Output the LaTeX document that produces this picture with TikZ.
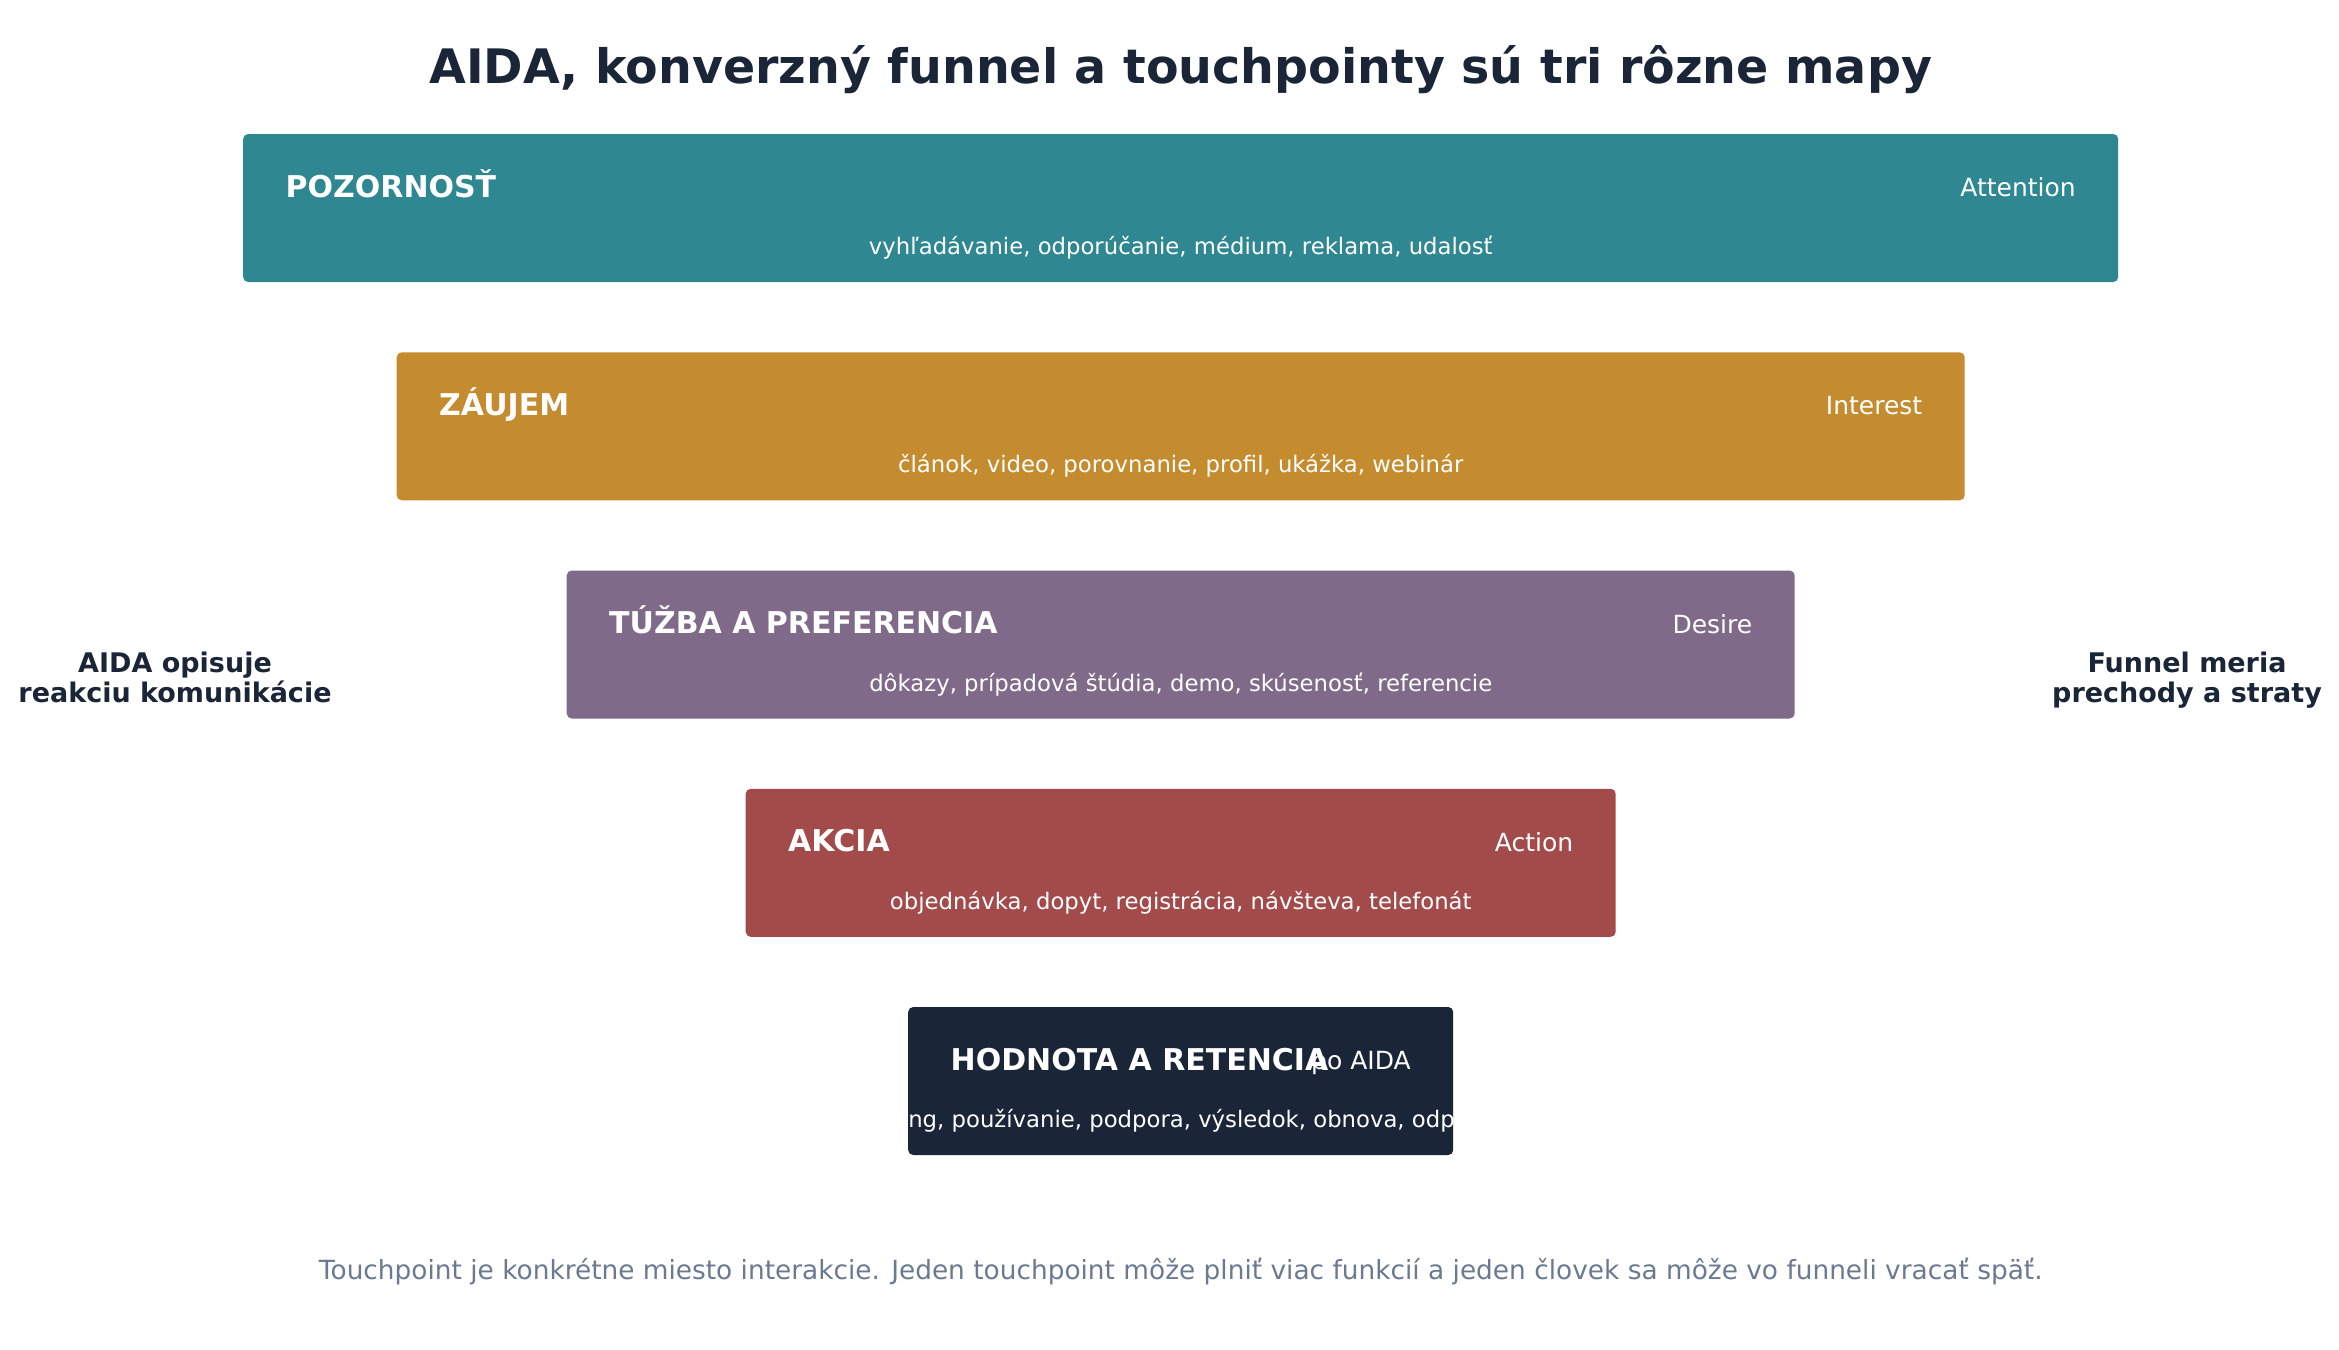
\documentclass[tikz,border=0pt]{standalone}
\usepackage{fontspec}
\setmainfont{DejaVu Sans}
\usepackage{xcolor}
\usetikzlibrary{positioning}
\definecolor{teal1}{RGB}{46,135,145}
\definecolor{gold1}{RGB}{196,140,46}
\definecolor{purple1}{RGB}{127,106,138}
\definecolor{red1}{RGB}{163,74,74}
\definecolor{navy1}{RGB}{27,37,56}
\definecolor{slate1}{RGB}{107,122,145}
\begin{document}
\begin{tikzpicture}[x=0.4pt, y=0.4pt,
    headline/.style={font=\fontsize{19}{23}\selectfont\bfseries, text=navy1, anchor=base, inner sep=0pt},
    stage/.style={shape=rectangle, rounded corners=2pt, minimum height=59.2pt, inner sep=0pt, outer sep=0pt},
    stagename/.style={font=\fontsize{12}{14}\selectfont\bfseries, text=white, anchor=base west, inner sep=0pt},
    stageeng/.style={font=\fontsize{10}{12}\selectfont, text=white, anchor=base east, inner sep=0pt},
    stagetouch/.style={font=\fontsize{9.1}{11}\selectfont, text=white, anchor=base, inner sep=0pt},
    sidenote/.style={font=\fontsize{10.8}{11.8}\selectfont\bfseries, text=navy1, align=center, anchor=base, inner sep=0pt},
    closing/.style={font=\fontsize{10.55}{12.5}\selectfont, text=slate1, anchor=base, inner sep=0pt}
]
        \fill[white] (0,0) rectangle (2339,-1349);
        \useasboundingbox (0,0) rectangle (2339,-1349);

        \node[headline, name=title] at(1180.7,-83) {AIDA, konverzný funnel a touchpointy sú tri rôzne mapy};

        % stages of the funnel
        \node[stage, fill=teal1, minimum width=750pt, name=att] at(1180.7,-208) {};
        \node[stagename] (attname) at([xshift=16.8pt,yshift=-25.2pt]att.north west) {POZORNOSŤ};
        \node[stageeng] (atteng) at([xshift=-16.8pt,yshift=-25pt]att.north east) {Attention};
        \node[stagetouch] (atttouch) at([yshift=-48.2pt]att.north) {vyhľadávanie, odporúčanie, médium, reklama, udalosť};

        \node[stage, fill=gold1, minimum width=627.2pt, name=int] at(1180.7,-426.3) {};
        \node[stagename] (intname) at([xshift=16.8pt,yshift=-25.2pt]int.north west) {ZÁUJEM};
        \node[stageeng] (inteng) at([xshift=-16.8pt,yshift=-25pt]int.north east) {Interest};
        \node[stagetouch] (inttouch) at([yshift=-48.2pt]int.north) {článok, video, porovnanie, profil, ukážka, webinár};

        \node[stage, fill=purple1, minimum width=491.2pt, name=des] at(1180.7,-644.5) {};
        \node[stagename] (desname) at([xshift=16.8pt,yshift=-25.2pt]des.north west) {TÚŽBA A PREFERENCIA};
        \node[stageeng] (deseng) at([xshift=-16.8pt,yshift=-25pt]des.north east) {Desire};
        \node[stagetouch] (destouch) at([yshift=-48.2pt]des.north) {dôkazy, prípadová štúdia, demo, skúsenosť, referencie};

        \node[stage, fill=red1, minimum width=348pt, name=act] at(1180.7,-862.8) {};
        \node[stagename] (actname) at([xshift=16.8pt,yshift=-25.2pt]act.north west) {AKCIA};
        \node[stageeng] (acteng) at([xshift=-16.8pt,yshift=-25pt]act.north east) {Action};
        \node[stagetouch] (acttouch) at([yshift=-48.2pt]act.north) {objednávka, dopyt, registrácia, návšteva, telefonát};

        \node[stage, fill=navy1, minimum width=218pt, name=val] at(1180.7,-1081) {};
        \node[stageeng] (valeng) at([xshift=-16.8pt,yshift=-25pt]val.north east) {po AIDA};
        \node[stagename] (valname) at([xshift=16.8pt,yshift=-25.2pt]val.north west) {HODNOTA A RETENCIA};
        \begin{scope}
            \clip[rounded corners=2pt] (val.south west) rectangle (val.north east);
            \node[stagetouch] (valtouch) at([yshift=-48.2pt]val.north) {onboarding, používanie, podpora, výsledok, obnova, odporúčanie};
        \end{scope}

        % side notes
        \node[sidenote, name=aida] at(175,-702) {AIDA opisuje\\reakciu komunikácie};
        \node[sidenote, name=funnel] at(2187,-702) {Funnel meria\\prechody a straty};

        \node[closing, name=note] at(1180.7,-1279) {Touchpoint je konkrétne miesto interakcie. Jeden touchpoint môže plniť viac funkcií a jeden človek sa môže vo funneli vracať späť.};
\end{tikzpicture}
\end{document}
